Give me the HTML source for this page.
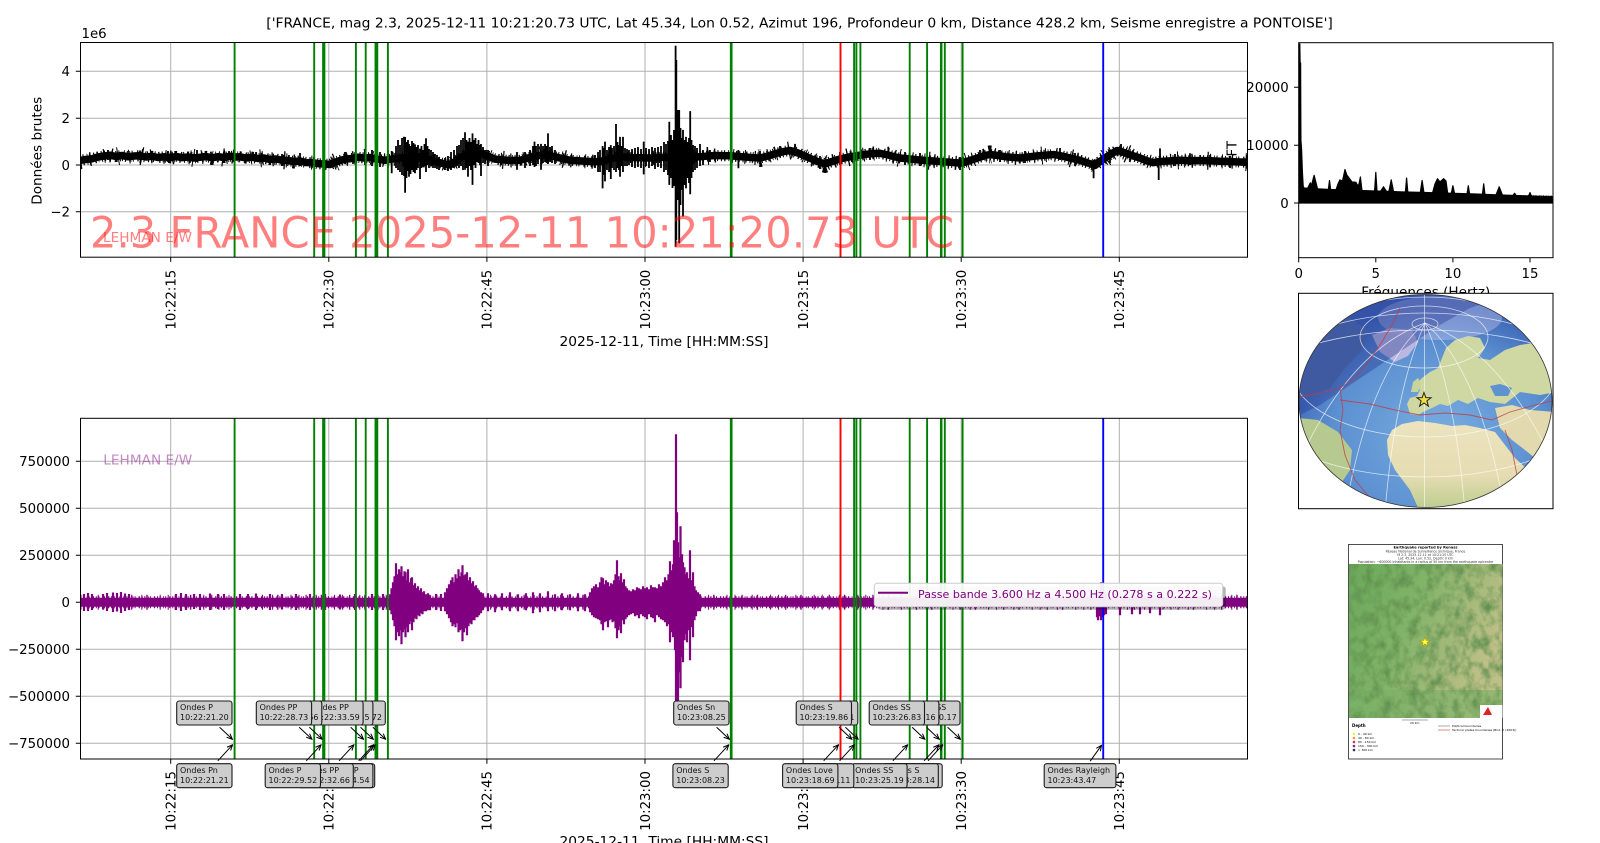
<!DOCTYPE html>
<html><head><meta charset="utf-8">
<style>
html,body{margin:0;padding:0;background:#fff;}
svg{display:block;}
text{font-family:"DejaVu Sans","Liberation Sans",sans-serif;fill:#000;}
.g{stroke:#b0b0b0;stroke-width:1;fill:none;}
.tk{stroke:#000;stroke-width:1;}
.t13{font-size:13.33px;}
.bx rect{fill:#cdcdcd;stroke:#1a1a1a;stroke-width:1.1;}
.bx text{font-size:8px;fill:#111;}
.bx path{stroke:#000;stroke-width:1;fill:none;marker-end:url(#ah);}
</style></head><body>
<svg xmlns="http://www.w3.org/2000/svg" width="1600" height="843" viewBox="0 0 1600 843">
<defs>
 <clipPath id="cTop"><rect x="80.5" y="42.5" width="1167" height="214.7"/></clipPath>
 <clipPath id="cBot"><rect x="80.5" y="418.3" width="1167" height="340.7"/></clipPath>
 <clipPath id="cFft"><rect x="1298.7" y="42.7" width="254.3" height="215"/></clipPath>
 <clipPath id="cGlobe"><ellipse cx="1425.5" cy="401" rx="126.5" ry="106.5"/></clipPath>
 <clipPath id="cMap"><rect x="1349" y="564" width="153.5" height="154"/></clipPath>
 <marker id="ah" viewBox="0 0 10 10" refX="9" refY="5" markerWidth="7" markerHeight="7" markerUnits="userSpaceOnUse" orient="auto"><path d="M1,1.5L9,5L1,8.5" fill="none" stroke="#000" stroke-width="1.4"/></marker>
 <radialGradient id="ocean" cx="0.55" cy="0.65" r="0.6"><stop offset="0" stop-color="#78acdf"/><stop offset="0.7" stop-color="#5b8fd0"/><stop offset="1" stop-color="#3f68b8"/></radialGradient>
 <linearGradient id="afr" x1="0" y1="0" x2="0" y2="1"><stop offset="0" stop-color="#ece4c0"/><stop offset="0.6" stop-color="#e6dcb2"/><stop offset="1" stop-color="#b9cc8c"/></linearGradient>
 <linearGradient id="mapg" x1="0" y1="0" x2="1" y2="0.4"><stop offset="0" stop-color="#6aa85a"/><stop offset="0.45" stop-color="#80b468"/><stop offset="0.75" stop-color="#a3b97a"/><stop offset="1" stop-color="#bfc088"/></linearGradient>
 <filter id="hill" x="0" y="0" width="100%" height="100%">
  <feTurbulence type="fractalNoise" baseFrequency="0.11 0.08" numOctaves="3" seed="7" result="t"/>
  <feColorMatrix in="t" type="matrix" values="0 0 0 0 0.12  0 0 0 0 0.28  0 0 0 0 0.08  2.2 0 0 0 -0.85"/>
 </filter>
 <path id="topc" d="M80,160.3L86,159.5L92,158.8L98,157L104,156L110,155.2L116,156.5L122,155.5L128,156.8L134,156L140,155.8L146,157L152,156.3L158,157.5L164,156.8L170,157.8L176,156.5L182,157.6L188,157L194,158L200,157.3L206,156.5L212,157.8L218,156.7L224,157.5L230,156.2L236,157L240,156.8L246,158L252,157.2L258,158.5L264,158L270,159.5L276,159L282,160.2L288,160.5L294,161.5L300,161L306,162.5L313,162.7L319,163.8L325,164L330,164.5L336,162L340,160.5L345,159.1L352,158.5L358,157.2L364,158L370,157.5L376,159L385,160.3L392,159L400,158L410,157.3L420,156.8L430,160L440,162.7L445,164L450,165L456,161L462,156.8L470,154L478,152.1L486,155.5L495,159.1L502,159.8L510,160.5L520,160.3L528,158L536,156L545,154.5L552,156L560,158L570,160.3L578,160.8L586,161.3L594,161.8L600,161.5L610,159L620,156.8L630,157.5L640,157.8L650,158L660,157.5L670,157.2L680,157L690,157L700,156.8L708,156L716,155.5L724,155.8L730,155.6L738,156.5L746,157L754,157.8L760,158L768,156L776,153.5L784,151.5L790,150.5L798,153L806,156.5L814,160L820,162.5L825,163.8L832,161.5L840,159L850,156.8L858,155.5L866,154.3L874,153.5L880,153.3L888,155L894,156.6L900,158L910,159L920,160L930,160.8L940,161.5L950,162.3L956,162.8L962,163.1L970,160.5L978,157.8L985,155.5L990,154.5L998,155.5L1006,156.8L1014,157.5L1020,158L1028,157L1036,156L1044,155.3L1054,154.5L1062,156L1070,158L1080,160.3L1088,163L1095,165.5L1100,161.5L1105,158L1111,154L1117,150.5L1124,152.5L1132,155.5L1140,158L1146,160.5L1153,162.7L1160,161.5L1168,161L1180,160.3L1190,160.8L1200,160.5L1210,160.8L1220,161.3L1230,161.6L1240,162L1248,162.2"/>
</defs>
<rect width="1600" height="843" fill="#fff"/>

<!-- Title -->
<text class="t13" x="266.3" y="27.3" textLength="1066.5" lengthAdjust="spacingAndGlyphs">['FRANCE, mag 2.3, 2025-12-11 10:21:20.73 UTC, Lat 45.34, Lon 0.52, Azimut 196, Profondeur 0 km, Distance 428.2 km, Seisme enregistre a PONTOISE']</text>

<!-- ================= TOP AXES ================= -->
<g class="g">
 <path d="M170.7 42.5V257.2M328.8 42.5V257.2M486.9 42.5V257.2M645 42.5V257.2M803.1 42.5V257.2M961.2 42.5V257.2M1119.3 42.5V257.2"/>
 <path d="M80.5 71.3H1247.5M80.5 118.2H1247.5M80.5 165H1247.5M80.5 211.8H1247.5"/>
</g>
<g clip-path="url(#cTop)" fill="none" stroke="#000">
 <use href="#topc" stroke-width="7.5" stroke-linejoin="round" stroke-linecap="round"/>
 <use href="#topc" stroke-width="11" stroke-dasharray="1 2 1.2 3 0.8 1.5 1 4 1.3 2.2 1 2.8"/>
 <use href="#topc" stroke-width="14" stroke-dasharray="1 9 1.2 13 1 6 1.4 17 1 11"/>
 <use href="#topc" stroke-width="18" stroke-dasharray="1.2 37 1 23 1.3 51 1 29"/>
 <path stroke-width="1.8" d="M140 150.5V160M197 150V162M256 152V161M300 153V166M229 151V160M325 160V170M345 152V164M738.4 150V168.3M795 143.9V156M888.3 146.7V158M1093.6 160V178.3M1158.7 158V180M1160 148.4V160M1121 144V156M1190 153.3V165M1075 153V166M1000 150V162M960 157V170M840 152V165M760 151V164M1230 156V168M1060 148V160M870 148V160M920 153V166M108 150V160M168 151V162M282 154V166M1110 150V163M1175 154V166M1210 155V167M1025 151V163M980 150V161M905 152V165M820 156V169M780 146V157M710 150V162
 M365 152V165M372 150V166M380 152V167M388 150V168M391.7 151V173.2
 M396 146V168M398 140V170M400 145V172M402 138V175M404 136.7V176M405.1 137V192.7M406.5 142V178M408 140V171M409 144V176.7M410.5 146V174M412 141V170M413.5 143V172M415 144.4V173.2M416.5 147V170M418 145V168M420 148.6V179M421.5 146V168M423 150V167M424.5 144V166M426 138.3V172M427.5 146V165M429 149V168M431 150V166M433 152V168M435 154V168M437 155V169M439 157V170
 M445 158V170M448 156V171M451 152V170M454 150V168M457 146V166M459 145V168M461 140V166M463 138V170M465 132.3V169.7M466.5 140V168M468 141.6V176.7M469.5 138V166M471 142V170M472.5 133.4V184.9M474 140V165M475.5 138V168M477 144V162M478.5 140V163M480 145V165M481 144V176M483 147V163M485 150V164M488 150V166
 M517 152V169.7M525 152V168M530 150V166M533 146V165M534.5 141.6V167M536 146V166M538 144V164M541 143.9V169.7M543 146V163M545 144V162M546.5 146V163M548 133.4V164M550 147V162M552 146V163M555 150V164
 M595 155V168M598 152V172M600 150V172M602.6 146V188.4M604 148V175M605 141.6V181.4M607 150V170M609 147V172M610.8 145.1V179M612 148V168M614 146V170M616 124V172M617.5 142V168M619 145V170M620 136.9V176.7M621.5 146V166M623 136.9V172M625 148V166M627 149V166M629 150V165M632 149V167M635 148V168M638 147V167M641 149V168M643.7 141.6V174.4M646 148V166M649 149V168M652 147V166M655 148V169M658 147V167M661 146V168M664 142V172M666 144V170M668 141V175M669.3 121.7V184.9M671 135V178M672.5 140V188M674 130V186M675.6 45.7V246.7M676.3 60V240M677.5 110V200M679.2 110V243.3M680.5 128V205M681.5 138V190M683 129.9V216.5M684.5 140V185M686 136.9V188.4M687.5 142V178M689 138V183M690.2 111.1V194.3M691.5 140V178M693 145V172M695 146V170M697 148V168M700 144V166M703 150V165"/>
</g>

<!-- ================= BOTTOM AXES ================= -->
<g class="g">
 <path d="M170.7 418.3V759M328.8 418.3V759M486.9 418.3V759M645 418.3V759M803.1 418.3V759M961.2 418.3V759M1119.3 418.3V759"/>
 <path d="M80.5 461.3H1247.5M80.5 508.3H1247.5M80.5 555.3H1247.5M80.5 602.3H1247.5M80.5 649.3H1247.5M80.5 696.3H1247.5M80.5 743.3H1247.5"/>
</g>
<g clip-path="url(#cBot)" fill="none" stroke="#800080">
 <path stroke-width="9" d="M80.5 602.3H1247.5"/>
 <path stroke-width="12" stroke-dasharray="1 1.5 1.2 2.5 0.8 1.2 1 3 1.3 1.8" d="M80.5 602.3H1247.5"/>
 <path stroke-width="15" stroke-dasharray="1 6 1.2 9 1 4 1.4 12 1 7" d="M80.5 602.3H1247.5"/>
 <path stroke-width="2.2" d="M84 594V611M88 593V611M92 594V610M103 594V609.5M107 593V611M113 592.5V612M117 593V611.5M121 592V613M125 593.5V611M129 594V610M176 594V610M181 593V611M186 594V610M194 594V609M200 594V610M210 593.5V610M218 594V609M224 594V610M240 594V610M248 594V609M256 593.5V610M270 594V610M282 594V609.5M296 594V610M310 594V610M325 594V610M340 594.5V609.5M355 594V610M372 594V610M383 594V610
 M390 594.3V610.3M391.5 588.3V614.3M393 582.3V620.3M394.5 576.3V626.3M396 563.3V640.3M397.5 574.3V632.3M399 569.3V636.3M400.5 572.3V630.3M401.5 566.3V644.3M403 576.3V632.3M404.5 571.3V629.3M405.5 572.3V637.3M407 580.3V627.3M408 569.3V632.3M409.5 582.3V624.3M411 578.3V621.3M412 577.3V630.3M413.5 585.3V622.3M415 583.3V618.3M416.5 588.3V619.3M418 586.3V615.3M419.5 590.3V616.3M421 588.3V613.3M422.5 592.3V614.3M424 591.3V611.3M426 594.3V611.3M428 593.3V610.3M430 595.3V610.3M436 594V610M441 594V611
 M445 592.3V611.3M447 588.3V614.3M449 584.3V618.3M451 580.3V622.3M452.5 577.3V626.3M454 582.3V624.3M455.5 574.3V627.3M457 578.3V623.3M458.5 569.3V632.3M460 576.3V630.3M461.5 572.3V629.3M462.5 565.3V641.3M464 575.3V632.3M465.5 574.3V628.3M467 572.3V635.3M468.5 580.3V626.3M470 577.3V623.3M471.5 583.3V624.3M473 581.3V620.3M474.5 586.3V620.3M476 585.3V617.3M477.5 588.3V617.3M479 590.3V615.3M481 592.3V613.3M483 593.3V610.3
 M488 593.3V611.3M495 594.3V612.3M502 593.3V610.3M510 592.3V611.3M518 594.3V611.3M526 593.3V610.3M533 592.3V613.3M540 593.3V612.3M548 591.3V611.3M555 594.3V611.3M562 593.3V610.3M570 594.3V610.3M578 593.3V611.3M585 594.3V611.3
 M590 592.3V612.3M592 588.3V615.3M594 586.3V617.3M596 584.3V618.3M598 587.3V619.3M600 582.3V620.3M601.5 577.3V624.3M603 578.3V630.3M604.5 584.3V622.3M606 580.3V621.3M608 582.3V627.3M609.5 586.3V620.3M611 583.3V619.3M612.5 584.3V622.3M614 580.3V621.3M615.5 574.3V628.3M617 560.3V638.3M618.5 576.3V630.3M620 580.3V626.3M621 573.3V633.3M622.5 582.3V620.3M624 579.3V624.3M625.5 586.3V619.3M627 588.3V617.3M629 590.3V615.3M631 591.3V614.3M633 589.3V613.3
 M635 590.3V616.3M637 587.3V615.3M639 588.3V618.3M641 589.3V614.3M643 586.3V616.3M645 588.3V617.3M647 587.3V619.3M649 589.3V614.3M651 585.3V617.3M653 587.3V618.3M655 587.3V622.3M657 588.3V615.3M659 584.3V617.3M661 586.3V619.3M663 582.3V620.3M665 577.3V622.3M667 580.3V626.3M668.5 574.3V624.3M670 561.3V642.3M671.5 570.3V632.3M673 564.3V637.3M674 540.3V632.3M675 547.3V650.3M676 434.3V705.3M677 512.3V705.3M678 542.3V705.3M679 557.3V672.3M680.5 526.3V688.3M682 554.3V657.3M683 562.3V662.3M684.5 567.3V640.3M686 574.3V634.3M687 572.3V642.3M688.5 578.3V630.3M690 550.3V660.3M691.5 580.3V627.3M693 572.3V637.3M694.5 586.3V620.3M696 590.3V616.3M698 592.3V611.3M700 594.3V611.3
 M1097 592.3V617.3M1098 592.3V620.3M1099.5 590.3V616.3M1101 582.3V620.3M1102.5 590.3V617.3M1104 591.3V615.3M1106 593.3V614.3M1120 596.3V615.3M1132 596.3V614.3M1140 596.3V614.3M1150 596.3V613.3M1160 596.3V615.3"/>
</g>

<!-- vertical phase lines -->
<path fill="none" stroke="#008000" stroke-width="1.9" d="M234.6 42.5V257.2M234.6 418.3V759M314.2 42.5V257.2M314.2 418.3V759M323.1 42.5V257.2M323.1 418.3V759M324.4 42.5V257.2M324.4 418.3V759M355.9 42.5V257.2M355.9 418.3V759M365.7 42.5V257.2M365.7 418.3V759M375.5 42.5V257.2M375.5 418.3V759M377.3 42.5V257.2M377.3 418.3V759M387.9 42.5V257.2M387.9 418.3V759M730.8 42.5V257.2M730.8 418.3V759M731.6 42.5V257.2M731.6 418.3V759M854.1 42.5V257.2M854.1 418.3V759M856.4 42.5V257.2M856.4 418.3V759M860.4 42.5V257.2M860.4 418.3V759M909.7 42.5V257.2M909.7 418.3V759M927.1 42.5V257.2M927.1 418.3V759M940.9 42.5V257.2M940.9 418.3V759M941.5 42.5V257.2M941.5 418.3V759M944.8 42.5V257.2M944.8 418.3V759M962.6 42.5V257.2M962.6 418.3V759"/>
<path fill="none" stroke="#ff0000" stroke-width="1.9" d="M840.5 42.5V257.2M840.5 418.3V759"/>
<path fill="none" stroke="#0000ff" stroke-width="1.9" d="M1103.2 42.5V257.2M1103.2 418.3V759"/>

<!-- top axes texts -->
<text x="103" y="242" font-size="13.33" textLength="89" lengthAdjust="spacingAndGlyphs" style="fill:#ff0000" fill-opacity="0.5">LEHMAN E/W</text>
<text x="90" y="247.3" font-size="42.67" textLength="864" lengthAdjust="spacingAndGlyphs" style="fill:#ff0000" fill-opacity="0.5">2.3 FRANCE 2025-12-11 10:21:20.73 UTC</text>
<rect x="80.5" y="42.5" width="1167" height="214.7" fill="none" stroke="#000" stroke-width="1"/>
<path class="tk" d="M170.7 257.2v4.7M328.8 257.2v4.7M486.9 257.2v4.7M645 257.2v4.7M803.1 257.2v4.7M961.2 257.2v4.7M1119.3 257.2v4.7M75.8 71.3h4.7M75.8 118.2h4.7M75.8 165h4.7M75.8 211.8h4.7"/>
<g class="t13" text-anchor="end">
 <text x="70" y="76.1">4</text><text x="70" y="123">2</text><text x="70" y="169.8">0</text><text x="70" y="216.6">−2</text>
</g>
<text class="t13" x="81.5" y="38">1e6</text>
<g class="t13" text-anchor="end">
 <text transform="translate(175.5,269.7) rotate(-90)">10:22:15</text>
 <text transform="translate(333.6,269.7) rotate(-90)">10:22:30</text>
 <text transform="translate(491.7,269.7) rotate(-90)">10:22:45</text>
 <text transform="translate(649.8,269.7) rotate(-90)">10:23:00</text>
 <text transform="translate(807.9,269.7) rotate(-90)">10:23:15</text>
 <text transform="translate(966,269.7) rotate(-90)">10:23:30</text>
 <text transform="translate(1124.1,269.7) rotate(-90)">10:23:45</text>
</g>
<text class="t13" x="664" y="346" text-anchor="middle" textLength="209" lengthAdjust="spacingAndGlyphs">2025-12-11, Time [HH:MM:SS]</text>
<text class="t13" transform="translate(41.5,150.8) rotate(-90)" text-anchor="middle" textLength="108" lengthAdjust="spacingAndGlyphs">Données brutes</text>

<!-- bottom axes texts -->
<text x="103.3" y="464.3" font-size="13.33" textLength="89" lengthAdjust="spacingAndGlyphs" style="fill:#9a3a9a" fill-opacity="0.6">LEHMAN E/W</text>
<rect x="80.5" y="418.3" width="1167" height="340.7" fill="none" stroke="#000" stroke-width="1"/>
<path class="tk" d="M170.7 759v4.7M328.8 759v4.7M486.9 759v4.7M645 759v4.7M803.1 759v4.7M961.2 759v4.7M1119.3 759v4.7M75.8 461.3h4.7M75.8 508.3h4.7M75.8 555.3h4.7M75.8 602.3h4.7M75.8 649.3h4.7M75.8 696.3h4.7M75.8 743.3h4.7"/>
<g class="t13" text-anchor="end">
 <text x="70" y="466.1">750000</text><text x="70" y="513.1">500000</text><text x="70" y="560.1">250000</text><text x="70" y="607.1">0</text>
 <text x="70" y="654.1">−250000</text><text x="70" y="701.1">−500000</text><text x="70" y="748.1">−750000</text>
</g>
<g class="t13" text-anchor="end">
 <text transform="translate(175.5,771) rotate(-90)">10:22:15</text>
 <text transform="translate(333.6,771) rotate(-90)">10:22:30</text>
 <text transform="translate(491.7,771) rotate(-90)">10:22:45</text>
 <text transform="translate(649.8,771) rotate(-90)">10:23:00</text>
 <text transform="translate(807.9,771) rotate(-90)">10:23:15</text>
 <text transform="translate(966,771) rotate(-90)">10:23:30</text>
 <text transform="translate(1124.1,771) rotate(-90)">10:23:45</text>
</g>
<text class="t13" x="664" y="846" text-anchor="middle" textLength="209" lengthAdjust="spacingAndGlyphs">2025-12-11, Time [HH:MM:SS]</text>

<!-- legend -->
<rect x="877.3" y="586.3" width="348.4" height="23.4" rx="3" fill="#000" fill-opacity="0.3"/>
<rect x="874.3" y="583.3" width="348.4" height="23.4" rx="3" fill="#fff" fill-opacity="0.93" stroke="#cccccc" stroke-width="1"/>
<path d="M878 592.7H908" stroke="#800080" stroke-width="2"/>
<text x="918" y="598" font-size="10.67" textLength="294" lengthAdjust="spacingAndGlyphs" style="fill:#800080">Passe bande 3.600 Hz a 4.500 Hz (0.278 s a 0.222 s)</text>

<!-- annotations (latest first, earliest on top) -->
<g class="bx">
 <g><path d="M1090.2 761.2L1101.6 745.2"/><rect x="1044.2" y="763.7" width="71.7" height="24" rx="2.5"/><text x="1047.5" y="772.9">Ondes Rayleigh</text><text x="1047.5" y="782.9">10:23:43.47</text></g>
 <g><path d="M947.6 727.3L960.4 739.3"/><rect x="904.7" y="701" width="55.3" height="24" rx="2.5"/><text x="908" y="710.2">Ondes SS</text><text x="908" y="720.2">10:23:30.17</text></g>
 <g><path d="M928 760.8L942.8 744.8"/><rect x="886.9" y="763.7" width="55.3" height="24" rx="2.5"/><text x="890.2" y="772.9">Ondes ScS</text><text x="890.2" y="782.9">10:23:28.52</text></g>
 <g><path d="M926.5 727.3L939.3 739.3"/><rect x="883.6" y="701" width="55.3" height="24" rx="2.5"/><text x="886.9" y="710.2">Ondes SS</text><text x="886.9" y="720.2">10:23:28.16</text></g>
 <g><path d="M924.1 760.8L938.9 744.8"/><rect x="883" y="763.7" width="55.3" height="24" rx="2.5"/><text x="886.3" y="772.9">Ondes S</text><text x="886.3" y="782.9">10:23:28.14</text></g>
 <g><path d="M912.1 727.3L924.9 739.3"/><rect x="869.2" y="701" width="55.3" height="24" rx="2.5"/><text x="872.5" y="710.2">Ondes SS</text><text x="872.5" y="720.2">10:23:26.83</text></g>
 <g><path d="M892.9 760.8L907.7 744.8"/><rect x="851.8" y="763.7" width="55.3" height="24" rx="2.5"/><text x="855.1" y="772.9">Ondes SS</text><text x="855.1" y="782.9">10:23:25.19</text></g>
 <g><path d="M845.4 727.3L858.2 739.3"/><rect x="802.5" y="701" width="55.3" height="24" rx="2.5"/><text x="805.8" y="710.2">Ondes S</text><text x="805.8" y="720.2">10:23:20.41</text></g>
 <g><path d="M839.6 760.8L854.4 744.8"/><rect x="798.5" y="763.7" width="55.3" height="24" rx="2.5"/><text x="801.8" y="772.9">Ondes S</text><text x="801.8" y="782.9">10:23:20.11</text></g>
 <g><path d="M839.1 727.3L851.9 739.3"/><rect x="796.2" y="701" width="55.3" height="24" rx="2.5"/><text x="799.5" y="710.2">Ondes S</text><text x="799.5" y="720.2">10:23:19.86</text></g>
 <g><path d="M823.7 760.8L838.5 744.8"/><rect x="782.6" y="763.7" width="55.3" height="24" rx="2.5"/><text x="785.9" y="772.9">Ondes Love</text><text x="785.9" y="782.9">10:23:18.69</text></g>
 <g><path d="M716.6 727.3L729.4 739.3"/><rect x="673.7" y="701" width="55.3" height="24" rx="2.5"/><text x="677" y="710.2">Ondes Sn</text><text x="677" y="720.2">10:23:08.25</text></g>
 <g><path d="M714 760.8L728.8 744.8"/><rect x="672.9" y="763.7" width="55.3" height="24" rx="2.5"/><text x="676.2" y="772.9">Ondes S</text><text x="676.2" y="782.9">10:23:08.23</text></g>
 <g><path d="M372.9 727.3L385.7 739.3"/><rect x="330" y="701" width="55.3" height="24" rx="2.5"/><text x="333.3" y="710.2">Ondes PP</text><text x="333.3" y="720.2">10:22:35.72</text></g>
 <g><path d="M360.5 760.8L375.3 744.8"/><rect x="319.4" y="763.7" width="55.3" height="24" rx="2.5"/><text x="322.7" y="772.9">Ondes PP</text><text x="322.7" y="782.9">10:22:34.81</text></g>
 <g><path d="M360.5 727.3L373.3 739.3"/><rect x="317.6" y="701" width="55.3" height="24" rx="2.5"/><text x="320.9" y="710.2">Ondes PP</text><text x="320.9" y="720.2">10:22:34.55</text></g>
 <g><path d="M358.7 760.8L373.5 744.8"/><rect x="317.6" y="763.7" width="55.3" height="24" rx="2.5"/><text x="320.9" y="772.9">Ondes PP</text><text x="320.9" y="782.9">10:22:34.54</text></g>
 <g><path d="M350.7 727.3L363.5 739.3"/><rect x="307.8" y="701" width="55.3" height="24" rx="2.5"/><text x="311.1" y="710.2">Ondes PP</text><text x="311.1" y="720.2">10:22:33.59</text></g>
 <g><path d="M339.1 760.8L353.9 744.8"/><rect x="298" y="763.7" width="55.3" height="24" rx="2.5"/><text x="301.3" y="772.9">Ondes PP</text><text x="301.3" y="782.9">10:22:32.66</text></g>
 <g><path d="M309.4 727.3L322.2 739.3"/><rect x="266.5" y="701" width="55.3" height="24" rx="2.5"/><text x="269.8" y="710.2">Ondes P</text><text x="269.8" y="720.2">10:22:29.66</text></g>
 <g><path d="M306.3 760.8L321.1 744.8"/><rect x="265.2" y="763.7" width="55.3" height="24" rx="2.5"/><text x="268.5" y="772.9">Ondes P</text><text x="268.5" y="782.9">10:22:29.52</text></g>
 <g><path d="M299.2 727.3L312 739.3"/><rect x="256.3" y="701" width="55.3" height="24" rx="2.5"/><text x="259.6" y="710.2">Ondes PP</text><text x="259.6" y="720.2">10:22:28.73</text></g>
 <g><path d="M217.8 760.8L232.6 744.8"/><rect x="176.7" y="763.7" width="55.3" height="24" rx="2.5"/><text x="180" y="772.9">Ondes Pn</text><text x="180" y="782.9">10:22:21.21</text></g>
 <g><path d="M219.6 727.3L232.4 739.3"/><rect x="176.7" y="701" width="55.3" height="24" rx="2.5"/><text x="180" y="710.2">Ondes P</text><text x="180" y="720.2">10:22:21.20</text></g>
</g>

<!-- ================= FFT AXES ================= -->
<g clip-path="url(#cFft)" fill="#000" stroke="#000" stroke-width="1.2" stroke-linejoin="round">
 <path d="M1298.8,203L1298.8,44L1299.8,44L1300.1,63L1300.6,63L1300.9,140L1301.6,150L1302.4,172L1303.2,186L1304,188L1310,188.5L1330,189.5L1345,190L1360,190.5L1375,191L1400,191.8L1425,192.5L1450,193.2L1475,194L1500,195L1530,196L1553,196.6L1553,203Z"/>
 <path d="M1307.3,189L1310.3,182.8L1313.3,189ZM1310.6,189L1314.1,175.3L1317.6,189ZM1328.3,190L1329.5,180.5L1330.7,190ZM1336,190L1338,184L1339.9,179.9L1342.5,181L1345,169.5L1346.8,175L1349.6,178.7L1352,182L1355.8,182.2L1358,186L1359,184L1360.4,177L1361.9,190ZM1374.6,191L1375.8,172.4L1377,191ZM1380.5,191.5L1383.5,186.8L1386.5,191.5ZM1388.9,191.5L1391.2,179.9L1393.5,191.5ZM1405.4,192L1406.6,178.1L1407.8,192ZM1420.3,192.5L1422.1,180.5L1423.9,192.5ZM1432.5,193L1435,184L1437.5,178.7L1440,182L1443.6,178.7L1446,181L1447.6,193ZM1451.4,193L1452.9,185.7L1454.4,193ZM1467.1,193.5L1468.3,185.7L1469.5,193.5ZM1482.5,194L1483.7,183.9L1484.9,194ZM1496.2,194.5L1499.2,186.8L1502.2,194.5ZM1513.4,195L1514.6,193.2L1515.8,195ZM1528.8,195.5L1530,192.6L1531.2,195.5Z"/>
 <path fill="none" stroke-width="8" stroke-dasharray="0.8 1.5 1 2.5 0.7 1.2" d="M1302,196L1330,196.5L1375,197L1450,198L1553,199.5"/>
</g>
<rect x="1298.7" y="42.7" width="254.3" height="215" fill="none" stroke="#000" stroke-width="1"/>
<path class="tk" d="M1298.7 257.7v4.7M1375.8 257.7v4.7M1452.9 257.7v4.7M1530 257.7v4.7M1294 87.3h4.7M1294 145.2h4.7M1294 203h4.7"/>
<g class="t13" text-anchor="end"><text x="1288.7" y="92.1">20000</text><text x="1288.7" y="150">10000</text><text x="1288.7" y="207.8">0</text></g>
<g class="t13" text-anchor="middle"><text x="1298.7" y="278">0</text><text x="1375.8" y="278">5</text><text x="1452.9" y="278">10</text><text x="1530" y="278">15</text></g>
<text class="t13" transform="translate(1236.5,152.5) rotate(-90)" text-anchor="middle">FFT</text>
<text class="t13" x="1425.8" y="296.5" text-anchor="middle" textLength="129" lengthAdjust="spacingAndGlyphs">Fréquences (Hertz)</text>

<!-- ================= GLOBE ================= -->
<rect x="1298.5" y="293.3" width="254.5" height="215.4" fill="#fff"/>
<g clip-path="url(#cGlobe)">
 <ellipse cx="1425.5" cy="401" rx="126.5" ry="106.5" fill="url(#ocean)"/>
 <path d="M1299,330L1320,318L1350,318L1368,330L1362,350L1345,368L1330,388L1310,395L1299,398Z" fill="#5273ad"/>
 <path d="M1299,418L1318,420L1338,432L1352,450L1350,470L1340,485L1325,495L1305,495L1299,480Z" fill="#b6c98e"/>
 <path d="M1372,335L1390,328L1412,330L1418,342L1408,356L1395,362L1380,352Z" fill="#b8b8e0"/>
 <path d="M1407,404L1410,398L1417,396L1420,390L1416,384L1422,378L1430,372L1438,368L1442,358L1446,348L1455,340L1468,336L1480,338L1485,348L1478,358L1490,360L1505,350L1520,345L1540,342L1556,340L1556,392L1540,395L1520,392L1505,404L1490,402L1478,398L1468,404L1458,400L1448,406L1440,404L1432,408L1425,411L1418,415L1410,414Z" fill="#cfd7a2"/>
 <path d="M1490,386L1500,384L1512,388L1508,396L1495,396Z" fill="#5f93cf"/>
 <path d="M1411,392L1413,382L1418,378L1421,384L1418,392Z" fill="#c8d49e"/>
 <path d="M1387,440L1392,430L1402,424L1418,421L1435,423L1452,426L1465,425L1480,428L1495,432L1505,445L1515,458L1528,470L1520,485L1512,500L1505,512L1420,512L1410,490L1395,470L1388,455Z" fill="url(#afr)"/>
 <path d="M1495,408L1512,405L1530,410L1556,412L1556,470L1540,462L1525,450L1512,440L1500,428Z" fill="#e3d9ae"/>
 <ellipse cx="1440" cy="318" rx="62" ry="22" fill="#c8c8ee" fill-opacity="0.4"/>
 <path d="M1290,420L1320,405L1350,385L1380,365L1410,345L1440,325L1470,308L1500,298L1560,285L1560,280L1290,280Z" fill="#1c2a8a" fill-opacity="0.35"/>
 <g fill="none" stroke="#fff" stroke-opacity="0.7" stroke-width="0.8">
  <ellipse cx="1425" cy="324" rx="13" ry="6"/>
  <ellipse cx="1424" cy="337" rx="64" ry="31"/>
  <ellipse cx="1425" cy="367" rx="135" ry="70"/>
  <ellipse cx="1425" cy="395" rx="175" ry="82"/>
  <ellipse cx="1425" cy="420" rx="205" ry="90"/>
  <path d="M1424.5 290V512"/>
  <path d="M1425,323Q1350,350 1300,460"/>
  <path d="M1425,323Q1370,370 1345,512"/>
  <path d="M1425,323Q1395,390 1385,512"/>
  <path d="M1425,323Q1455,390 1465,512"/>
  <path d="M1425,323Q1480,370 1505,512"/>
  <path d="M1425,323Q1500,350 1552,460"/>
 </g>
 <g fill="none" stroke="#c03c3c" stroke-opacity="0.8" stroke-width="0.9">
  <path d="M1300,397L1320,393L1340,388L1355,378L1368,362L1380,345L1392,325L1400,308"/>
  <path d="M1340,388L1343,410L1340,430L1345,455L1355,480L1372,500L1395,512"/>
  <path d="M1340,400L1370,404L1395,410L1420,415L1445,413L1470,415L1492,420L1510,412L1535,405L1556,400"/>
  <path d="M1505,430L1512,450L1518,480L1515,510"/>
 </g>
</g>
<ellipse cx="1425.5" cy="401" rx="126.5" ry="106.5" fill="none" stroke="#333" stroke-width="0.8"/>
<path d="M1424,392.5L1425.8,397.6L1431.1,397.7L1426.9,400.9L1428.4,406.1L1424,403L1419.6,406.1L1421.1,400.9L1416.9,397.7L1422.2,397.6Z" fill="#f0e040" stroke="#222" stroke-width="1"/>
<rect x="1298.5" y="293.3" width="254.5" height="215.4" fill="none" stroke="#000" stroke-width="1"/>

<!-- ================= MAP THUMBNAIL ================= -->
<rect x="1348.5" y="544.5" width="154" height="214.5" fill="#fff" stroke="#222" stroke-width="0.8"/>
<g text-anchor="middle">
 <text x="1425.5" y="548.5" font-size="3.6" font-weight="bold">Earthquake reported by Renass</text>
 <text x="1425.5" y="552.3" font-size="3.2" style="fill:#333">Réseau National de Surveillance Sismique, France</text>
 <text x="1425.5" y="555.8" font-size="3.2" style="fill:#333">M 2.3, 2025-12-11 at 10:21:20 UTC</text>
 <text x="1425.5" y="559.3" font-size="3.2" style="fill:#333">Lat: 45.34, Lon: 0.52, Depth: 0 km</text>
 <text x="1425.5" y="562.8" font-size="3.2" style="fill:#333">Population: ~600000 inhabitants in a radius of 50 km from the earthquake epicentre</text>
</g>
<g clip-path="url(#cMap)">
 <rect x="1349" y="564" width="153.5" height="154" fill="url(#mapg)"/>
 <rect x="1349" y="690" width="153.5" height="28" fill="#78b066" fill-opacity="0.6"/>
 <rect x="1349" y="564" width="153.5" height="154" filter="url(#hill)"/>
 <rect x="1480" y="705" width="23" height="13" fill="#fff"/>
 <path d="M1483,715L1488,707L1492,715Z" fill="#d22"/>
</g>
<path d="M1425,637L1426.2,640.4L1429.8,640.5L1426.9,642.6L1427.9,646L1425,644L1422.1,646L1423.1,642.6L1420.2,640.5L1423.8,640.4Z" fill="#ffff40" stroke="#aa9900" stroke-width="0.6"/>
<text x="1352" y="727" font-size="4" font-weight="bold">Depth</text>
<g font-size="3">
 <text x="1358" y="735">0 - 40 km</text><text x="1358" y="739">40 - 80 km</text><text x="1358" y="743">80 - 150 km</text><text x="1358" y="747">150 - 300 km</text><text x="1358" y="751">&gt; 300 km</text>
 <text x="1410" y="724">20 km</text>
 <text x="1452" y="727">Political boundaries</text>
 <text x="1452" y="731">Tectonic plates boundaries (Bird, P. (2003))</text>
</g>
<g><circle cx="1354" cy="734" r="1.3" fill="#ee4"/><circle cx="1354" cy="738" r="1.3" fill="#e93"/><circle cx="1354" cy="742" r="1.3" fill="#d33"/><circle cx="1354" cy="746" r="1.3" fill="#63a"/><circle cx="1354" cy="750" r="1.3" fill="#333"/></g>
<path d="M1402 720H1428M1438 726H1450" stroke="#555" stroke-width="0.6"/>
<path d="M1438 730H1450" stroke="#d33" stroke-width="0.6"/>
</svg>
</body></html>
